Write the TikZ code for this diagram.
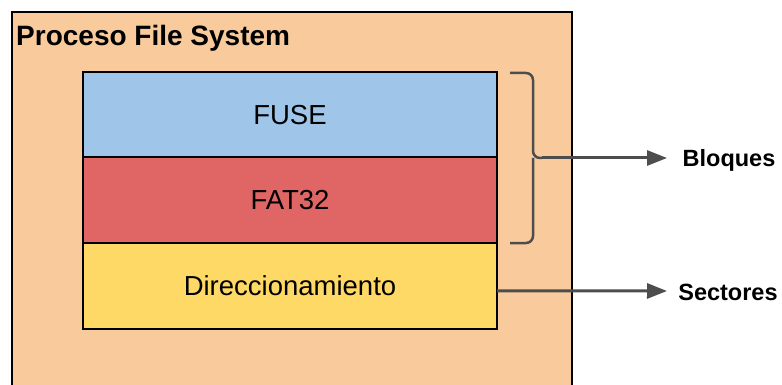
\documentclass[tikz,border=0pt]{standalone}
\usepackage{fontspec}
\setmainfont{Liberation Sans}
\usetikzlibrary{arrows.meta,positioning}
\definecolor{procfill}{HTML}{F9CB9C}
\definecolor{fusefill}{HTML}{9FC5E8}
\definecolor{fatfill}{HTML}{E06666}
\definecolor{dirfill}{HTML}{FFD966}
\definecolor{linkgray}{HTML}{4D4D4D}

\begin{document}
\begin{tikzpicture}[x=1pt,y=-1pt,
  layer/.style={draw=black,line width=2pt,outer sep=0pt,inner sep=0pt,
    minimum width=414pt,minimum height=85.5pt,font=\fontsize{27.5}{30}\selectfont},
  flow/.style={draw=linkgray,line width=3pt,-{Triangle[length=20pt,width=15pt]}},
  tag/.style={anchor=base,font=\bfseries\fontsize{23.5}{26}\selectfont}]
\useasboundingbox (0,0) rectangle (782,385);
% process frame, open at the bottom
\fill[procfill] (12,12) rectangle (572,400);
\draw[line width=2.5pt] (12,400) -- (12,12) -- (572,12) -- (572,400);
\node[anchor=base west,inner sep=0pt,font=\bfseries\fontsize{28}{32}\selectfont]
  (title) at (16,46) {Proceso File System};
% layers
\node[layer,fill=fusefill] (fuse) at (290,114.75) {FUSE};
\node[layer,fill=fatfill,below=0pt of fuse] (fat) {FAT32};
\node[layer,fill=dirfill,below=0pt of fat] (dir) {Direccionamiento};
% brace over FUSE + FAT32
\coordinate (tip) at (542,158);
\draw[linkgray,line width=2.5pt,rounded corners=7pt]
  (510,73) -- (533,73) -- (533,158) -- (tip)
  (510,243) -- (533,243) -- (533,158);
% outputs
\coordinate (bEnd) at (667,158);
\coordinate (sEnd) at (667,291);
\node[tag] (bloques) at (729,167) {Bloques};
\node[tag] (sectores) at (728,300) {Sectores};
\draw[flow] (tip) -- (bEnd);
\draw[flow] ([yshift=-5pt]dir.east) -- (sEnd);
\end{tikzpicture}
\end{document}
